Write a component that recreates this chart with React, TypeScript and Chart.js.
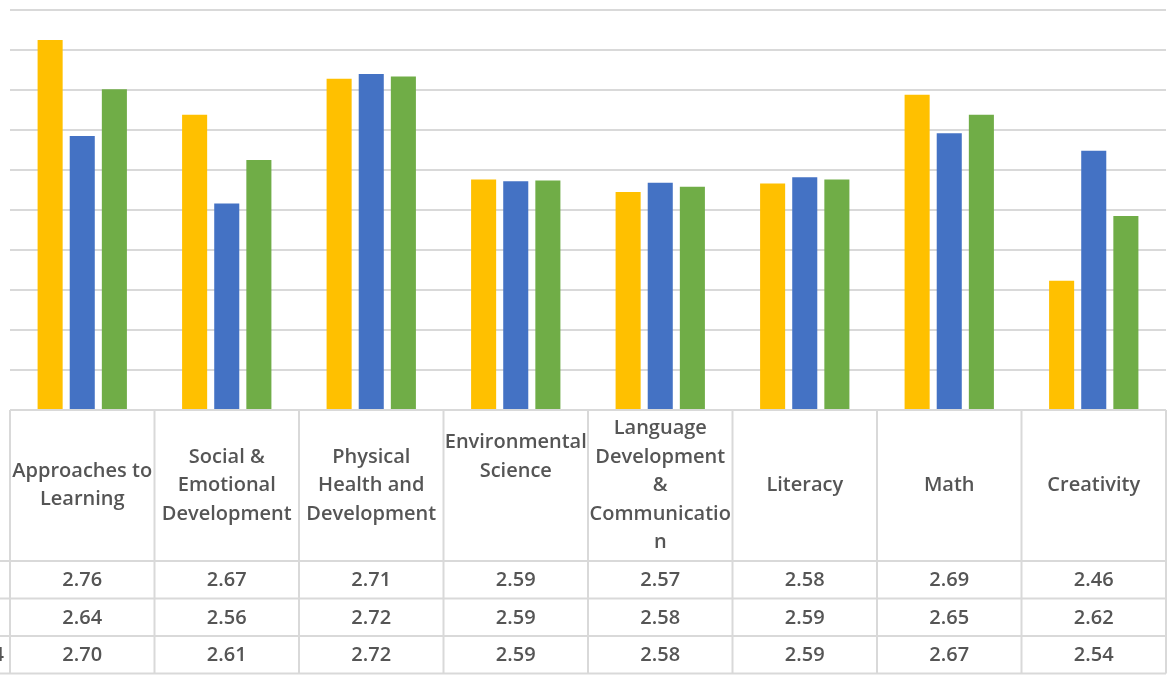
import React, { useEffect, useRef } from "react";
import { Chart, registerables } from "chart.js";

Chart.register(...registerables);

const categories: string[][] = [
  ["Approaches to", "Learning"],
  ["Social &", "Emotional", "Development"],
  ["Physical", "Health and", "Development"],
  ["Environmental", "Science", "", ""],
  ["Language", "Development", "&", "Communicatio", "n"],
  ["Literacy"],
  ["Math"],
  ["Creativity"],
];

const seriesNames = ["2021-2022", "2022-2023", "2023-2024"];

const series1 = [2.7625, 2.669, 2.714, 2.588, 2.5725, 2.583, 2.694, 2.4616];
const series2 = [2.6425, 2.558, 2.72, 2.586, 2.584, 2.591, 2.646, 2.624];
const series3 = [2.701, 2.6125, 2.717, 2.587, 2.579, 2.588, 2.669, 2.5425];

const seriesValues = [series1, series2, series3];
const seriesColors = ["#FFC000", "#4472C4", "#70AD47"];

const yMin = 2.3;
const yMax = 2.8;
const yStep = 0.05;

const FONT = '600 20px "Open Sans", sans-serif';
const TEXT_COLOR = "#555555";
const LINE_COLOR = "#d9d9d9";

const tablePlugin = {
  id: "dataTable",
  afterDraw(chart: any) {
    const ctx: CanvasRenderingContext2D = chart.ctx;
    const xs = chart.scales.x;
    const area = chart.chartArea;
    const n = categories.length;
    const colW = (area.right - area.left) / n;
    const top = area.bottom;
    const headerBottom = top + 151;
    const rowH = 37.5;
    const rowBottoms = [headerBottom, headerBottom + rowH, headerBottom + 2 * rowH, headerBottom + 3 * rowH];
    const tableBottom = rowBottoms[3];

    ctx.save();
    ctx.strokeStyle = LINE_COLOR;
    ctx.lineWidth = 2;
    ctx.beginPath();
    ctx.moveTo(area.left, top);
    ctx.lineTo(area.right, top);
    rowBottoms.forEach((y) => {
      ctx.moveTo(0, y);
      ctx.lineTo(area.right, y);
    });
    for (let i = 0; i <= n; i++) {
      const x = area.left + i * colW;
      ctx.moveTo(x, top);
      ctx.lineTo(x, tableBottom);
    }
    ctx.stroke();

    ctx.fillStyle = TEXT_COLOR;
    ctx.font = FONT;
    ctx.textAlign = "center";
    ctx.textBaseline = "middle";
    const lineH = 28.5;
    const headerMid = (top + headerBottom) / 2;
    categories.forEach((lines, i) => {
      const cx = xs.getPixelForValue(i);
      const startY = headerMid - ((lines.length - 1) * lineH) / 2;
      lines.forEach((ln, j) => {
        if (ln) ctx.fillText(ln, cx, startY + j * lineH);
      });
      seriesValues.forEach((vals, s) => {
        const yTop = rowBottoms[s];
        ctx.fillText(vals[i].toFixed(2), cx, yTop + rowH / 2 + 1);
      });
    });

    ctx.textAlign = "right";
    seriesNames.forEach((name, s) => {
      const yTop = rowBottoms[s];
      const rightX = s === 2 ? 4 : -4;
      ctx.fillText(name, rightX, yTop + rowH / 2 + 1);
    });
    ctx.restore();
  },
};

export default function App() {
  const canvasRef = useRef<HTMLCanvasElement | null>(null);

  useEffect(() => {
    document.body.style.margin = "0";
    const canvas = canvasRef.current;
    if (!canvas) return;
    const chart = new Chart(canvas, {
      type: "bar",
      data: {
        labels: categories.map((c) => c.filter((s) => s).join(" ")),
        datasets: seriesValues.map((vals, s) => ({
          label: seriesNames[s],
          data: vals,
          backgroundColor: seriesColors[s],
          borderWidth: 0,
          categoryPercentage: 0.667,
          barPercentage: 0.78,
        })),
      },
      options: {
        responsive: false,
        animation: false,
        devicePixelRatio: 1,
        layout: { padding: { left: 10, right: 2, top: 10, bottom: 265 } },
        plugins: {
          legend: { display: false },
          tooltip: { enabled: false },
        },
        scales: {
          x: {
            display: false,
          },
          y: {
            display: true,
            min: yMin,
            max: yMax,
            ticks: { display: false, stepSize: yStep },
            border: { display: false },
            grid: { color: LINE_COLOR, lineWidth: 2, drawTicks: false, tickLength: 0 },
          },
        },
      },
      plugins: [tablePlugin],
    });
    return () => chart.destroy();
  }, []);

  return (
    <div style={{ position: "fixed", left: 0, top: 0, width: 1168, height: 675, background: "#ffffff" }}>
      <canvas ref={canvasRef} width={1168} height={675} />
    </div>
  );
}
